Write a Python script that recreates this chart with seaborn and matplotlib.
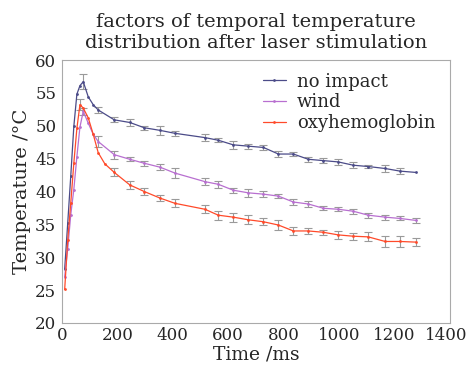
import numpy as np
import pandas as pd
import matplotlib
matplotlib.use('Agg')
import matplotlib.pyplot as plt
import matplotlib.transforms as mtransforms
import seaborn as sns

# readings (time in ms, temperature in degC)
t_noimpact = [10, 21, 32, 43, 54, 65, 77, 95, 113, 131, 189, 245, 297, 354, 408, 516, 564,
              618, 672, 727, 781, 835, 889, 943, 997, 1051, 1105, 1166, 1220, 1278]
T_noimpact = [28.2, 35.2, 42.4, 49.9, 54.8, 56.1, 56.7, 54.4, 53.2, 52.4, 50.9, 50.5, 49.7, 49.3,
              48.85, 48.2, 47.8, 47.1, 46.9, 46.7, 45.7, 45.7, 44.9, 44.7, 44.5, 44.0, 43.8,
              43.5, 43.1, 42.9]
e_noimpact = [np.nan] * 6 + [1.1, np.nan, np.nan, 0.5, 0.4, 0.5, 0.3, 0.7, 0.4, 0.5, 0.3,
              0.6, 0.4, 0.4, 0.4, 0.3, 0.4, 0.4, 0.4, 0.5, 0.3, 0.5, 0.4, np.nan]

t_wind = [10, 21, 32, 43, 54, 65, 77, 95, 113, 131, 189, 245, 297, 354, 408, 516, 564,
          618, 672, 727, 781, 835, 889, 943, 997, 1051, 1105, 1166, 1220, 1278]
T_wind = [27.0, 31.3, 36.5, 40.3, 45.3, 49.8, 52.2, 50.4, 48.7, 47.6, 45.6, 44.9, 44.3, 43.7,
          42.8, 41.5, 41.1, 40.2, 39.8, 39.6, 39.3, 38.4, 38.1, 37.45, 37.3, 37.0, 36.4,
          36.1, 35.9, 35.6]
e_wind = [np.nan] * 6 + [0.5, np.nan, np.nan, 0.8, 0.6, 0.3, 0.4, 0.5, 0.7, 0.5, 0.5,
          0.4, 0.6, 0.5, 0.3, 0.4, 0.4, 0.3, 0.3, 0.4, 0.4, 0.4, 0.3, 0.4]

t_oxy = [10, 21, 32, 43, 54, 65, 77, 95, 113, 131, 155, 189, 245, 297, 354, 408, 516, 564,
         618, 672, 727, 781, 835, 889, 943, 997, 1051, 1105, 1166, 1220, 1278]
T_oxy = [25.1, 32.6, 38.3, 44.3, 49.6, 53.2, 52.7, 51.2, 48.7, 45.9, 44.2, 42.9, 41.0, 40.0,
         39.0, 38.2, 37.3, 36.4, 36.1, 35.7, 35.4, 34.9, 34.0, 34.0, 33.8, 33.4, 33.2, 33.1,
         32.4, 32.4, 32.3]
e_oxy = [np.nan] * 5 + [0.8, np.nan, np.nan, np.nan, np.nan, np.nan, 0.6, 0.6, 0.5, 0.4,
         0.6, 0.6, 0.7, 0.7, 0.7, 0.5, 0.8, 0.6, 0.5, 0.4, 0.6, 0.5, 0.7, 0.8, 0.8, 0.6]

labels = ['no impact', 'wind', 'oxyhemoglobin']
colors = ['#4b4b88', '#b86fd0', '#ff4a2a']

frames = []
for lab, t, T, e in [(labels[0], t_noimpact, T_noimpact, e_noimpact),
                     (labels[1], t_wind, T_wind, e_wind),
                     (labels[2], t_oxy, T_oxy, e_oxy)]:
    frames.append(pd.DataFrame({'Time': t, 'Temp': T, 'err': e, 'series': lab}))
df = pd.concat(frames, ignore_index=True)

sns.set_style('white')
plt.rcParams['font.family'] = ['DejaVu Serif']

fig = plt.figure(figsize=(4.69, 3.66), dpi=100)
ax = fig.add_axes([0.132, 0.1175, 0.8275, 0.7185])

# grey error bars first, lines on top
for lab in labels:
    sub = df[(df['series'] == lab) & df['err'].notna()]
    ax.errorbar(sub['Time'], sub['Temp'], yerr=sub['err'], fmt='none',
                ecolor='#9a9a9a', elinewidth=0.8, capsize=3, capthick=0.8, zorder=2)

sns.lineplot(data=df, x='Time', y='Temp', hue='series', hue_order=labels,
             palette=colors, marker='.', markersize=4, markeredgewidth=0,
             linewidth=0.9, errorbar=None, sort=True, ax=ax, zorder=3)

ax.set_xlim(0, 1400)
ax.set_ylim(20, 60)
ax.set_xticks(range(0, 1401, 200))
ax.set_yticks(range(20, 61, 5))
ax.tick_params(axis='both', labelsize=12, direction='in', length=2, color='#999999')
ax.tick_params(axis='x', pad=3)
ax.tick_params(axis='y', pad=4)
for sp in ax.spines.values():
    sp.set_color('#aaaaaa')
    sp.set_linewidth(0.8)

# the last x label sits a little inside the figure edge, as in the reference
last = ax.get_xticklabels()[-1]
last.set_transform(last.get_transform() + mtransforms.ScaledTranslation(-4 / 100, 0, fig.dpi_scale_trans))

ax.set_xlabel('Time /ms', fontsize=13.5, labelpad=1)
ax.set_ylabel('Temperature /\u00b0C', fontsize=14, labelpad=3)
ax.set_title('factors of temporal temperature\ndistribution after laser stimulation',
             fontsize=14, linespacing=1.2, pad=9)

leg = ax.legend(loc='upper right', frameon=False, fontsize=13, handlelength=1.3,
                handletextpad=0.6, labelspacing=0.15, borderaxespad=0.3,
                bbox_to_anchor=(0.995, 1.0))

fig.savefig('out.png', dpi=100)
